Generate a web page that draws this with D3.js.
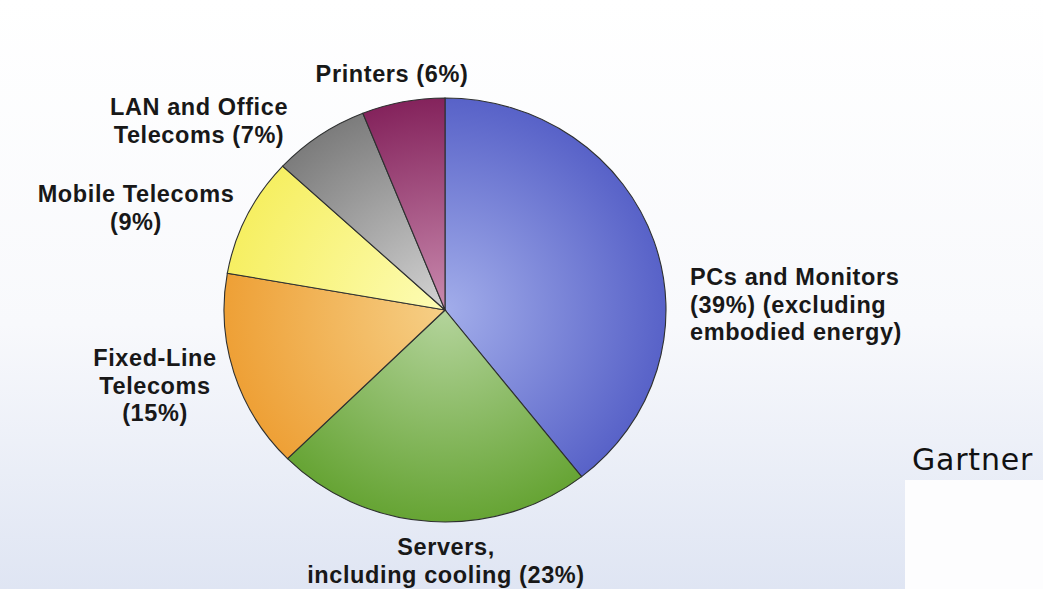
<!DOCTYPE html>
<html>
<head>
<meta charset="utf-8">
<script src="https://cdn.jsdelivr.net/npm/d3@7"></script>
<style>
  html, body { margin: 0; padding: 0; background: #fff; }
  svg { display: block; }
  .lbl { font-family: "Liberation Sans", Arial, sans-serif; font-weight: bold; font-size: 23.5px; letter-spacing: 0.6px; fill: #181818; }
  .src { font-family: "DejaVu Sans", "Noto Sans", sans-serif; font-size: 30px; letter-spacing: 0.8px; fill: #111; }
</style>
</head>
<body>
<svg id="chart"></svg>
<script>
// slices, clockwise from 12 o'clock
const categories = ['PCs and Monitors', 'Servers', 'Fixed-Line Telecoms', 'Mobile Telecoms', 'LAN and Office Telecoms', 'Printers']
const shares = [39, 23, 15, 9, 7, 6]
const labelLines = [
  ['PCs and Monitors', '(39%) (excluding', 'embodied energy)'],
  ['Servers,', 'including cooling (23%)'],
  ['Fixed-Line', 'Telecoms', '(15%)'],
  ['Mobile Telecoms', '(9%)'],
  ['LAN and Office', 'Telecoms (7%)'],
  ['Printers (6%)']
]
const lightColors = ['#a2adea', '#b4d49c', '#f6cf86', '#fdfcb6', '#d4d4d4', '#c98aae']
const darkColors  = ['#5862c8', '#66a434', '#eea036', '#f6ef62', '#7c7c7c', '#84235c']

// label placement: [x, first baseline, anchor]
const labelPos = [
  [690, 285, 'start'],
  [446, 555, 'middle'],
  [155, 366, 'middle'],
  [136, 202, 'middle'],
  [199, 115, 'middle'],
  [392, 82, 'middle']
]

const width = 1043,
  height = 589;

const cx = 445, cy = 310,
  rx = 221, ry = 212;

const svg = d3.select('#chart')
  .attr('width', width)
  .attr('height', height)

const defs = svg.append('defs')

// page background: white fading to pale blue at the bottom
let bg = defs.append('linearGradient')
  .attr('id', 'bg')
  .attr('x1', 0).attr('y1', 0).attr('x2', 0).attr('y2', 1)
bg.append('stop').attr('offset', '0%').attr('stop-color', '#ffffff')
bg.append('stop').attr('offset', '55%').attr('stop-color', '#f8f9fc')
bg.append('stop').attr('offset', '100%').attr('stop-color', '#dfe5f3')

svg.append('rect')
  .attr('width', width)
  .attr('height', height)
  .attr('fill', 'url(#bg)')

svg.append('rect')
  .attr('x', 905).attr('y', 480)
  .attr('width', width - 905).attr('height', height - 480)
  .attr('fill', '#fdfdfe')

categories.forEach(function (c, i) {
  let g = defs.append('radialGradient')
    .attr('id', 'grad' + i)
    .attr('gradientUnits', 'userSpaceOnUse')
    .attr('cx', 0).attr('cy', 0).attr('r', rx)
  g.append('stop').attr('offset', '0%').attr('stop-color', lightColors[i])
  g.append('stop').attr('offset', '100%').attr('stop-color', darkColors[i])
})

const pie = d3.pie().sort(null)
const arc = d3.arc().innerRadius(0).outerRadius(rx)

let g = svg.append('g')
  .attr('transform', `translate(${cx}, ${cy}) scale(1, ${ry / rx})`)

g.selectAll('path')
  .data(pie(shares))
  .enter()
  .append('path')
  .attr('d', arc)
  .attr('fill', (d, i) => `url(#grad${i})`)
  .attr('stroke', '#2e3030')
  .attr('stroke-width', 1.1)
  .attr('vector-effect', 'non-scaling-stroke')

const lineH = 27.5

labelLines.forEach(function (lines, i) {
  let t = svg.append('text')
    .attr('class', 'lbl')
    .attr('text-anchor', labelPos[i][2])
  lines.forEach(function (l, j) {
    t.append('tspan')
      .attr('x', labelPos[i][0])
      .attr('y', labelPos[i][1] + j * lineH)
      .text(l)
  })
})

svg.append('text')
  .attr('class', 'src')
  .attr('x', 912)
  .attr('y', 470)
  .text('Gartner')
</script>
</body>
</html>
